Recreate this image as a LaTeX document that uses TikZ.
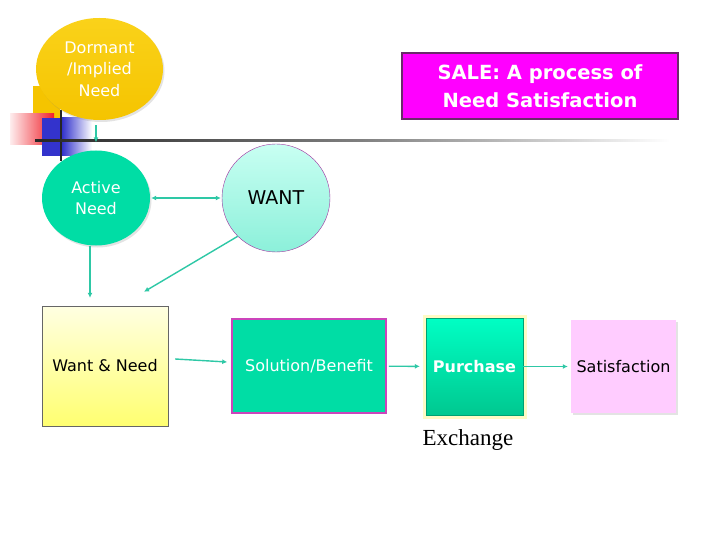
\documentclass[tikz,border=0pt]{standalone}
\usepackage{fontspec}
\setmainfont{DejaVu Sans}
\newfontfamily\exchfont{Liberation Serif}
\usetikzlibrary{arrows.meta, positioning, shapes.geometric, shadows}

\definecolor{sgold}{HTML}{F5C400}
\definecolor{sgoldlt}{HTML}{FAD21A}
\definecolor{steal}{HTML}{00DDA5}
\definecolor{stealdk}{HTML}{00C890}
\definecolor{stealbr}{HTML}{00FFC4}
\definecolor{saqua}{HTML}{C8FFF2}
\definecolor{saquadk}{HTML}{8CF0DA}
\definecolor{sline}{HTML}{2EC8A6}
\definecolor{spurple}{HTML}{A030A0}
\definecolor{smagenta}{HTML}{FF00FF}
\definecolor{sframe}{HTML}{6A2A6A}
\definecolor{spink}{HTML}{FFCCFF}
\definecolor{sorchid}{HTML}{CC44BB}
\definecolor{slemon}{HTML}{FFFF70}
\definecolor{slemonlt}{HTML}{FFFFE2}
\definecolor{sblue}{HTML}{3333CC}
\definecolor{sred}{HTML}{F0202A}

\tikzset{
  conn/.style={-{Latex[length=5pt,width=5pt]}, line width=1.4pt, sline},
  dconn/.style={{Latex[length=5pt,width=5pt]}-{Latex[length=5pt,width=5pt]}, line width=1.4pt, sline},
  txt/.style={font=\fontsize{16}{21.5}\selectfont, align=center},
  softshadow/.style={drop shadow={opacity=0.22, shadow xshift=1.5pt, shadow yshift=-2pt}},
}

\begin{document}
\begin{tikzpicture}[x=1pt, y=-1pt,
    bubble/.style={txt, text=white, softshadow, inner sep=0pt},
    stepbox/.style={txt, rectangle, inner sep=0pt}]
  \useasboundingbox[fill=white] (0,0) rectangle (720,540);

  \fill[sgold] (33,86) rectangle (60,118);
  \shade[left color=sred!8, right color=sred] (10,114) rectangle (54,145);
  \fill[sblue] (42,118) rectangle (62,156);
  \shade[left color=sblue, right color=white] (62,118) rectangle (92,156);
  \draw[line width=2.4pt, black!85] (61,110) -- (61,161);
  \shade[left color=black!85, right color=black!50] (35,140) rectangle (360,142);
  \shade[left color=black!50, right color=white] (360,140) rectangle (670,142);

  \node[bubble, ellipse, minimum width=127pt, minimum height=102pt,
        top color=sgoldlt, bottom color=sgold] (dorm) at (99.5,69) {Dormant\\/Implied\\Need};
  \node[bubble, ellipse, minimum width=108pt, minimum height=95pt,
        fill=steal] (act) at (96,198) {Active\\Need};
  \node[txt, circle, minimum size=108pt, inner sep=0pt, draw=spurple, thin,
        top color=saqua, bottom color=saquadk, font=\fontsize{19}{22}\selectfont] (want) at (276,198) {WANT};

  \node[stepbox, minimum width=126pt, minimum height=120pt, draw=black!60,
        top color=slemonlt, bottom color=slemon] (wan) at (105,366) {Want \& Need};
  \node[stepbox, minimum width=154pt, minimum height=94pt, draw=sorchid, line width=1.5pt,
        fill=steal, text=white] (sol) at (309,366) {Solution/Benefit};
  \node[stepbox, minimum width=104pt, minimum height=104pt, fill=yellow!45, opacity=0.5] (glow) at (474.5,366.5) {};
  \node[stepbox, minimum width=97pt, minimum height=97pt, draw=stealdk!80!black, thin,
        top color=stealbr, bottom color=stealdk, text=white, font=\fontsize{16}{21.5}\selectfont\bfseries]
        (pur) at (474.5,366.5) {Purchase};
  \node[stepbox, minimum width=105pt, minimum height=93pt, fill=spink, softshadow] (sat) at (623.5,366.5) {Satisfaction};
  \node[font=\exchfont\fontsize{23}{26}\selectfont] (exch) at (468,440) {Exchange};

  \node[stepbox, minimum width=276pt, minimum height=66pt, fill=smagenta, draw=sframe, line width=1.5pt,
        text=white, font=\fontsize{19.5}{28}\selectfont\bfseries] (sale) at (540,86) {SALE: A process of\\Need Satisfaction};

  \draw[conn, shorten <=5pt, shorten >=8pt] ([xshift=-3.5pt]dorm.south) -- (act.north);
  \draw[dconn, shorten <=1pt, shorten >=1pt] (act) -- (want);
  \draw[conn] ([xshift=-6pt]act.south) -- ([xshift=-15pt,yshift=8pt]wan.north);
  \draw[conn] (want.225) -- ([xshift=39pt,yshift=14pt]wan.north);
  \draw[conn] ([xshift=7pt,yshift=7pt]wan.east) -- ([xshift=-4pt,yshift=4pt]sol.west);
  \draw[conn, shorten <=2pt, shorten >=6pt] (sol) -- (pur);
  \draw[conn, shorten >=3pt] (pur) -- (sat);
\end{tikzpicture}
\end{document}
